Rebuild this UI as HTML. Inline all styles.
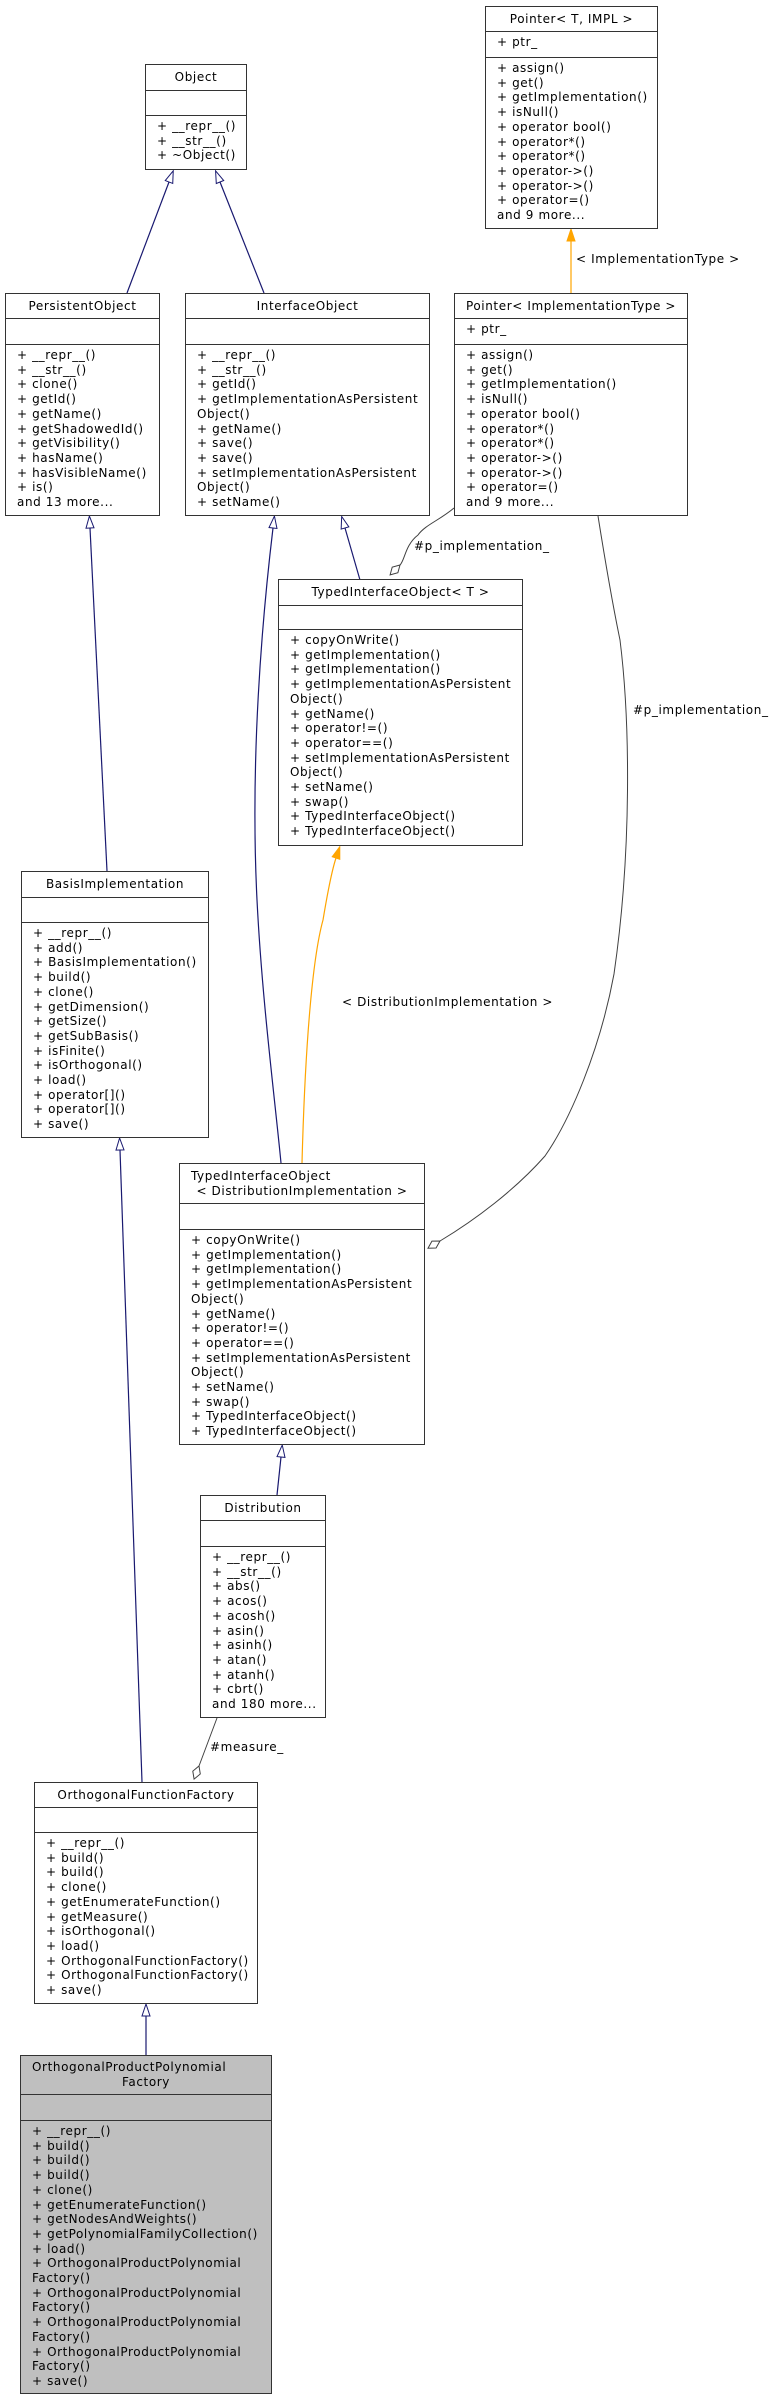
<!DOCTYPE html>
<html><head><meta charset="utf-8"><style>
body{margin:0;width:769px;height:2401px;background:#fff;position:relative;overflow:hidden}
.b{position:absolute;border:1px solid #333;background:#fff;box-sizing:border-box;font:12px "DejaVu Sans","Liberation Sans",sans-serif;letter-spacing:0.6px;color:#000}
.b>div{box-sizing:border-box;border-bottom:1px solid #333;white-space:pre}
.b>div:last-child{border-bottom:none}
.h{text-align:center}
.m{padding:3px 0 0 11px;line-height:14.7px}
.g{background:#bfbfbf}
svg{position:absolute;left:0;top:0}
.l{position:absolute;font:12px "DejaVu Sans","Liberation Sans",sans-serif;letter-spacing:0.6px;white-space:pre}
</style></head><body>
<svg width="769" height="2401">
<defs>
<marker id="tri" markerWidth="14" markerHeight="10" refX="1" refY="5" orient="auto-start-reverse" markerUnits="userSpaceOnUse"><path d="M13,5 L1,1 L1,9 Z" fill="#fff" stroke="#191970" stroke-width="1"/></marker>
<marker id="otri" markerWidth="14" markerHeight="10" refX="1" refY="5" orient="auto-start-reverse" markerUnits="userSpaceOnUse"><path d="M13,5 L1,1 L1,9 Z" fill="#ffa500" stroke="#ffa500" stroke-width="1"/></marker>
<marker id="dia" markerWidth="18" markerHeight="10" refX="1" refY="5" orient="auto-start-reverse" markerUnits="userSpaceOnUse"><path d="M1,5 L8,1 L15,5 L8,9 Z" fill="#fff" stroke="#404040" stroke-width="1"/></marker>
</defs>
<g fill="none" stroke="#191970" stroke-width="1.2">
<path d="M127,293 L169,182" marker-end="url(#tri)"/>
<path d="M264,293 L220,182" marker-end="url(#tri)"/>
<path d="M107,871 L90,528" marker-end="url(#tri)"/>
<path d="M281,1163 C275,1100 262,1000 257,900 C250,760 262,620 273,528" marker-end="url(#tri)"/>
<path d="M360,580 L345,528" marker-end="url(#tri)"/>
<path d="M142,1782 L120,1150" marker-end="url(#tri)"/>
<path d="M277,1495 L281,1457" marker-end="url(#tri)"/>
<path d="M146,2055 L146,2016" marker-end="url(#tri)"/>
</g>
<g fill="none" stroke="#ffa500" stroke-width="1.2">
<path d="M571,293 L571,241" marker-end="url(#otri)"/>
<path d="M302,1163 C305,1050 312,960 323,920 C328,890 332,870 336,858" marker-end="url(#otri)"/>
</g>
<g fill="none" stroke="#404040" stroke-width="1">
<path d="M454,508 C440,520 425,525 418,535 C405,545 405,560 400,565" marker-end="url(#dia)"/>
<path d="M598,516 C605,560 614,611 620,640 C630,720 632,850 614,974 C600,1050 570,1120 545,1156 C515,1190 475,1220 440,1241" marker-end="url(#dia)"/>
<path d="M217,1718 L199,1766" marker-end="url(#dia)"/>
</g>
</svg>

<div class="b" style="left:485px;top:6px;width:173px;height:223px">
<div class="h" style="height:25px;line-height:24px">Pointer&lt; T, IMPL &gt;</div>
<div class="m" style="height:26px">+ ptr_</div>
<div class="m">+ assign()
+ get()
+ getImplementation()
+ isNull()
+ operator bool()
+ operator*()
+ operator*()
+ operator-&gt;()
+ operator-&gt;()
+ operator=()
and 9 more...</div>
</div>

<div class="b" style="left:145px;top:64px;width:102px;height:106px">
<div class="h" style="height:26px;line-height:25px">Object</div>
<div style="height:25px"></div>
<div class="m">+ __repr__()
+ __str__()
+ ~Object()</div>
</div>

<div class="b" style="left:5px;top:293px;width:155px;height:223px">
<div class="h" style="height:25px;line-height:24px">PersistentObject</div>
<div style="height:26px"></div>
<div class="m">+ __repr__()
+ __str__()
+ clone()
+ getId()
+ getName()
+ getShadowedId()
+ getVisibility()
+ hasName()
+ hasVisibleName()
+ is()
and 13 more...</div>
</div>

<div class="b" style="left:185px;top:293px;width:245px;height:223px">
<div class="h" style="height:25px;line-height:24px">InterfaceObject</div>
<div style="height:26px"></div>
<div class="m">+ __repr__()
+ __str__()
+ getId()
+ getImplementationAsPersistent
Object()
+ getName()
+ save()
+ save()
+ setImplementationAsPersistent
Object()
+ setName()</div>
</div>

<div class="b" style="left:454px;top:293px;width:234px;height:223px">
<div class="h" style="height:25px;line-height:24px">Pointer&lt; ImplementationType &gt;</div>
<div class="m" style="height:26px">+ ptr_</div>
<div class="m">+ assign()
+ get()
+ getImplementation()
+ isNull()
+ operator bool()
+ operator*()
+ operator*()
+ operator-&gt;()
+ operator-&gt;()
+ operator=()
and 9 more...</div>
</div>

<div class="b" style="left:278px;top:579px;width:245px;height:267px">
<div class="h" style="height:26px;line-height:25px">TypedInterfaceObject&lt; T &gt;</div>
<div style="height:24px"></div>
<div class="m">+ copyOnWrite()
+ getImplementation()
+ getImplementation()
+ getImplementationAsPersistent
Object()
+ getName()
+ operator!=()
+ operator==()
+ setImplementationAsPersistent
Object()
+ setName()
+ swap()
+ TypedInterfaceObject()
+ TypedInterfaceObject()</div>
</div>

<div class="b" style="left:21px;top:871px;width:188px;height:267px">
<div class="h" style="height:26px;line-height:25px">BasisImplementation</div>
<div style="height:25px"></div>
<div class="m">+ __repr__()
+ add()
+ BasisImplementation()
+ build()
+ clone()
+ getDimension()
+ getSize()
+ getSubBasis()
+ isFinite()
+ isOrthogonal()
+ load()
+ operator[]()
+ operator[]()
+ save()</div>
</div>

<div class="b" style="left:179px;top:1163px;width:246px;height:282px">
<div style="height:40px;line-height:14.7px;padding-top:5px"><div style="padding-left:11px">TypedInterfaceObject</div><div style="text-align:center">&lt; DistributionImplementation &gt;</div></div>
<div style="height:26px"></div>
<div class="m">+ copyOnWrite()
+ getImplementation()
+ getImplementation()
+ getImplementationAsPersistent
Object()
+ getName()
+ operator!=()
+ operator==()
+ setImplementationAsPersistent
Object()
+ setName()
+ swap()
+ TypedInterfaceObject()
+ TypedInterfaceObject()</div>
</div>

<div class="b" style="left:200px;top:1495px;width:126px;height:223px">
<div class="h" style="height:25px;line-height:24px">Distribution</div>
<div style="height:26px"></div>
<div class="m">+ __repr__()
+ __str__()
+ abs()
+ acos()
+ acosh()
+ asin()
+ asinh()
+ atan()
+ atanh()
+ cbrt()
and 180 more...</div>
</div>

<div class="b" style="left:34px;top:1782px;width:224px;height:222px">
<div class="h" style="height:25px;line-height:24px">OrthogonalFunctionFactory</div>
<div style="height:25px"></div>
<div class="m">+ __repr__()
+ build()
+ build()
+ clone()
+ getEnumerateFunction()
+ getMeasure()
+ isOrthogonal()
+ load()
+ OrthogonalFunctionFactory()
+ OrthogonalFunctionFactory()
+ save()</div>
</div>

<div class="b g" style="left:20px;top:2055px;width:252px;height:339px">
<div style="height:39px;line-height:14.7px;padding-top:4px"><div style="padding-left:11px">OrthogonalProductPolynomial</div><div style="text-align:center">Factory</div></div>
<div style="height:26px"></div>
<div class="m">+ __repr__()
+ build()
+ build()
+ build()
+ clone()
+ getEnumerateFunction()
+ getNodesAndWeights()
+ getPolynomialFamilyCollection()
+ load()
+ OrthogonalProductPolynomial
Factory()
+ OrthogonalProductPolynomial
Factory()
+ OrthogonalProductPolynomial
Factory()
+ OrthogonalProductPolynomial
Factory()
+ save()</div>
</div>

<div class="l" style="left:576px;top:252px">&lt; ImplementationType &gt;</div>
<div class="l" style="left:414px;top:539px">#p_implementation_</div>
<div class="l" style="left:633px;top:703px">#p_implementation_</div>
<div class="l" style="left:342px;top:995px">&lt; DistributionImplementation &gt;</div>
<div class="l" style="left:210px;top:1740px">#measure_</div>
</body></html>
